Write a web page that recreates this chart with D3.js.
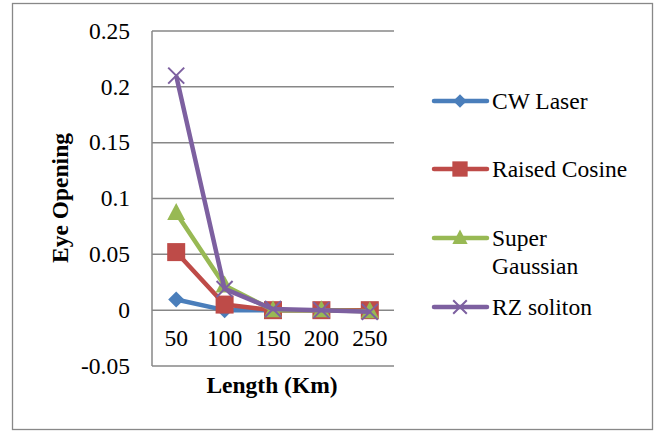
<!DOCTYPE html>
<html>
<head>
<meta charset="utf-8">
<script src="https://cdn.jsdelivr.net/npm/d3@7"></script>
<style>
  body { margin: 0; background: #fff; }
</style>
</head>
<body>
<div id="chart"></div>
<script>
// data
const lengths   = [50, 100, 150, 200, 250];
const cwLaser   = [0.0095, 0.0, 0.0, 0.0, 0.0];
const raisedCos = [0.052, 0.005, 0.0, 0.0, 0.0];
const superGaus = [0.087, 0.022, 0.0, 0.0, -0.001];
const rzSoliton = [0.21, 0.019, 0.001, 0.0, -0.0015];
const yTicks    = [-0.05, 0, 0.05, 0.1, 0.15, 0.2, 0.25];

const series = [
  { name: ['CW Laser'],          vals: cwLaser,   color: '#4A7EBB', sym: 'diamond' },
  { name: ['Raised Cosine'],     vals: raisedCos, color: '#BE4B48', sym: 'square' },
  { name: ['Super', 'Gaussian'], vals: superGaus, color: '#98B954', sym: 'triangle' },
  { name: ['RZ soliton'],        vals: rzSoliton, color: '#7D60A0', sym: 'x' }
];

const FONT = "'Liberation Serif', 'Times New Roman', serif";
const FS = 23.5;
const W = 658, H = 431;
const plot = { left: 152, right: 394, top: 31, bottom: 366 };

const svg = d3.select('#chart').append('svg')
  .attr('width', W).attr('height', H)
  .attr('font-family', FONT);

// outer frame
svg.append('rect')
  .attr('x', 12.5).attr('y', 3.5)
  .attr('width', 640).attr('height', 426)
  .attr('fill', '#fff').attr('stroke', '#888').attr('stroke-width', 1.3);

const x = d3.scaleBand().domain(lengths).range([plot.left, plot.right]);
const y = d3.scaleLinear().domain([-0.05, 0.25]).range([plot.bottom, plot.top]);

// gridlines
svg.append('g')
  .selectAll('line')
  .data(yTicks)
  .join('line')
  .attr('x1', plot.left).attr('x2', plot.right)
  .attr('y1', d => y(d)).attr('y2', d => y(d))
  .attr('stroke', '#878787').attr('stroke-width', 1.5);

// y axis line
svg.append('line')
  .attr('x1', plot.left).attr('x2', plot.left)
  .attr('y1', plot.top).attr('y2', plot.bottom)
  .attr('stroke', '#878787').attr('stroke-width', 1.5);

// y tick labels
svg.append('g')
  .selectAll('text')
  .data(yTicks)
  .join('text')
  .attr('x', 130).attr('y', d => y(d))
  .attr('dy', '0.33em')
  .attr('text-anchor', 'end')
  .attr('font-size', FS)
  .text(d => String(+d.toFixed(2)));

// x tick labels
svg.append('g')
  .selectAll('text')
  .data(lengths)
  .join('text')
  .attr('x', d => x(d) + x.bandwidth() / 2)
  .attr('y', 346)
  .attr('text-anchor', 'middle')
  .attr('font-size', FS)
  .text(d => d);

// axis titles
svg.append('text')
  .attr('transform', `translate(68,198) rotate(-90)`)
  .attr('text-anchor', 'middle')
  .attr('font-size', FS).attr('font-weight', 'bold')
  .text('Eye Opening');

svg.append('text')
  .attr('x', 272).attr('y', 393)
  .attr('text-anchor', 'middle')
  .attr('font-size', FS).attr('font-weight', 'bold')
  .text('Length (Km)');

function marker(g, s, cx, cy, scale) {
  const k = scale || 1;
  if (s.sym === 'diamond') {
    g.append('path')
      .attr('d', `M${cx},${cy - 8 * k}L${cx + 8 * k},${cy}L${cx},${cy + 8 * k}L${cx - 8 * k},${cy}Z`)
      .attr('fill', s.color);
  } else if (s.sym === 'square') {
    g.append('rect')
      .attr('x', cx - 9 * k).attr('y', cy - 9 * k)
      .attr('width', 18 * k).attr('height', 18 * k)
      .attr('fill', s.color);
  } else if (s.sym === 'triangle') {
    g.append('path')
      .attr('d', `M${cx},${cy - 10 * k}L${cx + 9 * k},${cy + 7 * k}L${cx - 9 * k},${cy + 7 * k}Z`)
      .attr('fill', s.color);
  } else {
    const r = 8 * k;
    g.append('path')
      .attr('d', `M${cx - r},${cy - r}L${cx + r},${cy + r}M${cx + r},${cy - r}L${cx - r},${cy + r}`)
      .attr('stroke', s.color).attr('stroke-width', 2).attr('fill', 'none');
  }
}

const line = d3.line()
  .x((d, i) => x(lengths[i]) + x.bandwidth() / 2)
  .y(d => y(d));

series.forEach(s => {
  const g = svg.append('g');
  g.append('path')
    .datum(s.vals)
    .attr('d', line)
    .attr('fill', 'none')
    .attr('stroke', s.color)
    .attr('stroke-width', 4.5)
    .attr('stroke-linejoin', 'round');
  s.vals.forEach((v, i) => marker(g, s, x(lengths[i]) + x.bandwidth() / 2, y(v)));
});

// legend
const legendY = [101, 169, 238, 307];
series.forEach((s, i) => {
  const g = svg.append('g');
  const ly = legendY[i];
  g.append('line')
    .attr('x1', 434).attr('x2', 487)
    .attr('y1', ly).attr('y2', ly)
    .attr('stroke', s.color).attr('stroke-width', 4.5)
    .attr('stroke-linecap', 'round');
  marker(g, s, 460, ly, 0.85);
  s.name.forEach((t, j) => {
    g.append('text')
      .attr('x', 492).attr('y', ly + j * 28)
      .attr('dy', '0.33em')
      .attr('font-size', FS)
      .text(t);
  });
});
</script>
</body>
</html>
